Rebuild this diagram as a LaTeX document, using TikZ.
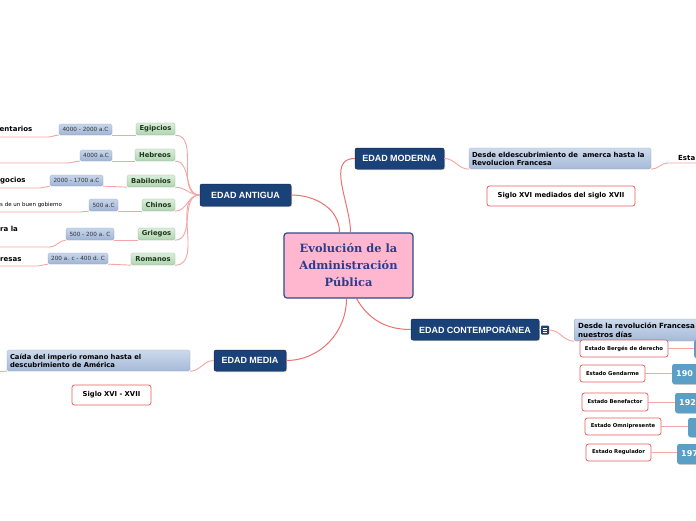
\documentclass[tikz,border=0pt]{standalone}
\usepackage{fontspec}
\setmainfont{DejaVu Sans}
\newfontfamily\arialf{Liberation Sans}
\newfontfamily\seriff{DejaVu Serif}
\usetikzlibrary{shadows}
\definecolor{navy}{RGB}{27,66,120}
\definecolor{cenfill}{RGB}{255,183,208}
\definecolor{cenborder}{RGB}{45,75,142}
\definecolor{centext}{RGB}{42,62,140}
\definecolor{mainred}{RGB}{238,112,112}
\definecolor{subred}{RGB}{244,165,165}
\definecolor{grtop}{RGB}{218,238,218}
\definecolor{grbot}{RGB}{176,212,176}
\definecolor{grtext}{RGB}{30,55,30}
\definecolor{dttop}{RGB}{200,214,236}
\definecolor{dtbot}{RGB}{160,180,212}
\definecolor{dstop}{RGB}{205,218,236}
\definecolor{dsbot}{RGB}{165,185,215}
\definecolor{redb}{RGB}{232,96,96}
\definecolor{steel}{RGB}{91,159,198}
\tikzset{
  navybox/.style={rectangle, rounded corners=2pt, fill=navy, draw=navy!70!black, line width=0.5pt,
    text=white, font=\arialf\bfseries\fontsize{9}{10}\selectfont, inner sep=0pt,
    drop shadow={shadow xshift=1pt, shadow yshift=-1pt, opacity=0.35, fill=black!60}},
  greenbox/.style={rectangle, rounded corners=1.5pt, top color=grtop, bottom color=grbot,
    draw=grbot!85!black, line width=0.3pt, text=grtext, inner sep=0pt,
    font=\bfseries\fontsize{6.8}{8}\selectfont, minimum height=12pt},
  datebox/.style={rectangle, rounded corners=1.5pt, top color=dttop, bottom color=dtbot,
    draw=dtbot!90!black, line width=0.3pt, text=black!80, inner sep=0pt,
    font=\fontsize{5.7}{7}\selectfont},
  desdebox/.style={rectangle, rounded corners=1.5pt, top color=dstop, bottom color=dsbot,
    draw=dsbot!90!black, line width=0.3pt, text=black, align=left, inner ysep=0pt},
  redbox/.style={rectangle, rounded corners=2.5pt, draw=redb, line width=0.8pt, fill=white,
    text=black, inner sep=0pt, font=\bfseries\fontsize{5.3}{6}\selectfont},
  bluebox/.style={rectangle, rounded corners=2pt, fill=steel, text=white, inner ysep=0pt,
    inner xsep=4pt, align=left, font=\bfseries\fontsize{8}{9}\selectfont,
    drop shadow={shadow xshift=0.8pt, shadow yshift=-0.8pt, opacity=0.3, fill=black!60}},
  cuttext/.style={anchor=west, inner sep=0pt, text=black, font=\bfseries\fontsize{7}{8}\selectfont},
  mainline/.style={draw=mainred, line width=1pt},
  subline/.style={draw=subred, line width=0.9pt},
}
\begin{document}
\begin{tikzpicture}[x=1pt,y=1pt]
\path[use as bounding box, clip] (0,0) rectangle (696,-520);
\fill[white] (0,0) rectangle (696,-520);

% central
\node[rectangle, rounded corners=3pt, fill=cenfill, draw=cenborder, line width=1.2pt,
  minimum width=129pt, minimum height=65pt, inner sep=0pt, align=center, text=centext,
  font=\seriff\bfseries\fontsize{11.4}{17}\selectfont] (cen) at (348.5,-265.5)
  {Evolución de la\\Administración\\Pública};

% ages
\node[navybox, minimum width=91pt, minimum height=22pt] (ant) at (245.5,-195) {EDAD ANTIGUA};
\node[navybox, minimum width=89pt, minimum height=21pt] (mod) at (399.5,-158.5) {EDAD MODERNA};
\node[navybox, minimum width=128pt, minimum height=21pt] (con) at (475,-329.5) {EDAD CONTEMPORÁNEA};
\node[navybox, minimum width=72pt, minimum height=21pt] (med) at (250,-360.5) {EDAD MEDIA};

\draw[mainline] (ant.east) to[out=0,in=90] ([xshift=-9pt]cen.north);
\draw[mainline] ([xshift=2pt]cen.north) to[out=90,in=180] (mod.west);
\draw[mainline] ([xshift=8pt]cen.south) to[out=-60,in=180] (con.west);
\draw[mainline] ([xshift=-2pt]cen.south) to[out=-90,in=0] (med.east);

% antigua children
\node[greenbox, minimum width=39pt] (egi) at (155.5,-129) {Egipcios};
\node[greenbox, minimum width=40pt] (heb) at (155,-155) {Hebreos};
\node[greenbox, minimum width=48pt] (bab) at (151,-181) {Babilonios};
\node[greenbox, minimum width=33pt] (chi) at (158.5,-205) {Chinos};
\node[greenbox, minimum width=37pt] (gri) at (156.5,-234) {Griegos};
\node[greenbox, minimum width=44pt] (rom) at (153,-259) {Romanos};

\node[datebox, minimum width=53pt, minimum height=11pt] (d1) at (85.5,-129.5) {4000 - 2000 a.C};
\node[datebox, minimum width=32pt, minimum height=11pt] (d2) at (96,-155.5) {4000 a.C};
\node[datebox, minimum width=53pt, minimum height=11pt] (d3) at (76.5,-180.5) {2000 - 1700 a.C};
\node[datebox, minimum width=29pt, minimum height=12pt] (d4) at (103.5,-205) {500 a.C};
\node[datebox, minimum width=48pt, minimum height=12pt] (d5) at (90,-234) {500 - 200 a. C};
\node[datebox, minimum width=60pt, minimum height=11pt] (d6) at (78,-258.5) {200 a. c - 400 d. C};

\node[cuttext] (t1) at (-0.5,-129) {entarios};
\node[cuttext] (t3) at (0,-181) {gocios};
\node[cuttext, font=\fontsize{5.5}{6}\selectfont] (t4) at (0,-205) {s de un buen gobierno};
\node[cuttext] (t5) at (0,-229) {ra la};
\node[cuttext] (t6) at (0,-260) {resas};

\coordinate (u1) at (48,-137); \coordinate (v1) at (0,-137);
\coordinate (u2) at (67,-163); \coordinate (v2) at (0,-163);
\coordinate (u3) at (40,-188); \coordinate (v3) at (0,-188);
\coordinate (u4) at (80,-212); \coordinate (v4) at (0,-212);
\coordinate (u5) at (50,-247); \coordinate (v5) at (0,-247);
\coordinate (u6) at (38,-266); \coordinate (v6) at (0,-266);

\foreach \g/\d/\i in {egi/d1/1, heb/d2/2, bab/d3/3, chi/d4/4, gri/d5/5, rom/d6/6}{
  \draw[subline] (ant.west) to[out=180,in=0] (\g.south east);
  \draw[subline] (\g.south west) -- (\d.south east);
  \draw[subline] (\d.south west) to[out=180,in=0] (u\i) -- (v\i);
}

% moderna children
\node[desdebox, minimum width=182pt, minimum height=21pt, text width=176pt, inner xsep=3pt,
  font=\bfseries\fontsize{6.9}{8}\selectfont] (ds1) at (560,-158.5)
  {Desde eldescubrimiento de~ amerca hasta la\\Revolucion Francesa};
\draw[subline] (mod.east) to[out=0,in=180] (ds1.south west);
\coordinate (e1) at (668,-163); \coordinate (e2) at (696,-163);
\draw[subline] (ds1.south east) to[out=0,in=180] (e1) -- (e2);
\node[cuttext] (esta) at (678,-158) {Esta};
\node[redbox, minimum width=148pt, minimum height=20pt, font=\bfseries\fontsize{6.8}{8}\selectfont]
  (sig1) at (561,-196) {Siglo XVI mediados del siglo XVII};

% contemporanea children
\node[rectangle, rounded corners=1pt, fill=navy, minimum width=8pt, minimum height=9pt,
  inner sep=0pt] (icon) at (545,-330) {};
\foreach \dy in {-2.2,0,2.2}{
  \draw[white, line width=0.6pt] ([xshift=-2.3pt,yshift=\dy pt]icon.center) -- ([xshift=2.3pt,yshift=\dy pt]icon.center);
}
\draw[subline] (con.east) -- (icon.west);
\node[desdebox, anchor=west, minimum height=22pt, text width=140pt, inner xsep=4pt,
  font=\bfseries\fontsize{7.1}{9}\selectfont] (ds2) at (574,-330)
  {Desde la revolución Francesa h\\nuestros días};
\draw[subline] (icon.east) to[out=0,in=180] (ds2.south west);

\node[redbox, minimum width=88pt, minimum height=17pt] (r1) at (624,-348.5) {Estado Bergés de derecho};
\node[redbox, minimum width=65pt, minimum height=17pt] (r2) at (612.5,-373.5) {Estado Gendarme};
\node[redbox, minimum width=66pt, minimum height=18pt] (r3) at (615,-402) {Estado Benefactor};
\node[redbox, minimum width=76pt, minimum height=17pt] (r4) at (623,-426.5) {Estado Omnipresente};
\node[redbox, minimum width=65pt, minimum height=17pt] (r5) at (618.5,-452.5) {Estado Regulador};

\node[bluebox, anchor=west, minimum height=18pt, text width=40pt] (b1) at (694,-349) {};
\node[bluebox, anchor=west, minimum height=20pt, text width=40pt] (b2) at (672,-374) {190};
\node[bluebox, anchor=west, minimum height=20pt, text width=40pt] (b3) at (675,-403) {192};
\node[bluebox, anchor=west, minimum height=19pt, text width=40pt] (b4) at (688,-427.5) {};
\node[bluebox, anchor=west, minimum height=20pt, text width=40pt] (b5) at (677,-454) {197};
\foreach \i in {1,...,5}{ \draw[subline] (r\i.east) -- (r\i.east -| b\i.west); }

% media children
\node[desdebox, minimum width=183pt, minimum height=21pt, text width=177pt, inner xsep=3pt,
  font=\bfseries\fontsize{6.8}{8}\selectfont] (cai) at (98.5,-360.5)
  {Caída del imperio romano hasta el\\descubrimiento de América};
\draw[subline] (med.west) to[out=180,in=0] (cai.south east);
\coordinate (m1) at (0,-371.5);
\draw[subline] (cai.south west) -- (m1);
\node[redbox, minimum width=79pt, minimum height=20pt, font=\bfseries\fontsize{6.8}{8}\selectfont]
  (sig2) at (111.5,-395) {Siglo XVI - XVII};
\end{tikzpicture}
\end{document}
